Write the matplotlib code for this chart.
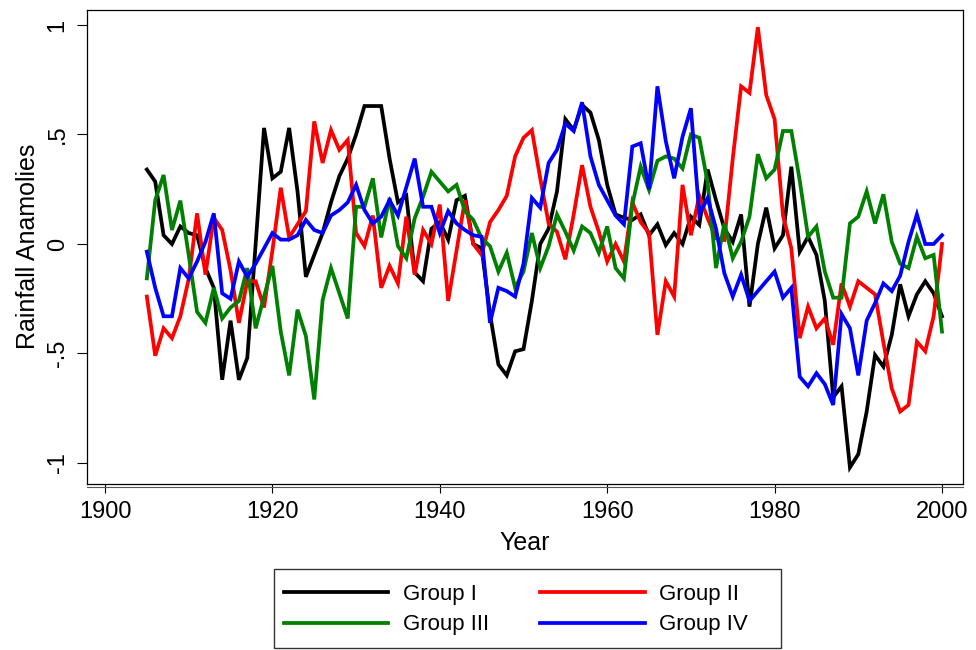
import matplotlib
matplotlib.use("Agg")
import matplotlib.pyplot as plt
from matplotlib.lines import Line2D
from matplotlib.patches import Rectangle
import numpy as np

plt.rcParams['font.family'] = ['Liberation Sans', 'DejaVu Sans']

years = list(range(1905, 2001))

group_1 = [0.34, 0.285, 0.04, 0.00, 0.08, 0.05, 0.04, -0.11, -0.20, -0.62,
           -0.35, -0.62, -0.52, 0.00, 0.53, 0.30, 0.33, 0.53, 0.24, -0.15,
           -0.05, 0.05, 0.19, 0.31, 0.39, 0.50, 0.63, 0.63, 0.63, 0.39,
           0.19, 0.22, -0.13, -0.17, 0.07, 0.10, 0.02, 0.20, 0.22, 0.00,
           -0.02, -0.32, -0.55, -0.60, -0.49, -0.48, -0.26, 0.00, 0.07, 0.24,
           0.57, 0.52, 0.635, 0.60, 0.475, 0.27, 0.135, 0.12, 0.11, 0.135,
           0.04, 0.09, -0.005, 0.05, 0.00, 0.125, 0.087, 0.34, 0.20, 0.07,
           0.01, 0.135, -0.286, 0.00, 0.166, -0.02, 0.04, 0.353, -0.035, 0.033,
           -0.05, -0.26, -0.70, -0.65, -1.02, -0.96, -0.765, -0.507, -0.56, -0.415,
           -0.184, -0.33, -0.23, -0.17, -0.225, -0.33]

group_2 = [-0.24, -0.51, -0.385, -0.43, -0.33, -0.16, 0.14, -0.14, 0.12, 0.064,
           -0.12, -0.36, -0.17, -0.17, -0.29, -0.03, 0.257, 0.03, 0.09, 0.15,
           0.56, 0.37, 0.52, 0.43, 0.475, 0.05, -0.01, 0.13, -0.20, -0.10,
           -0.18, 0.125, -0.14, 0.064, 0.00, 0.18, -0.26, -0.03, 0.20, 0.00,
           -0.05, 0.10, 0.155, 0.22, 0.40, 0.485, 0.52, 0.30, 0.094, 0.056,
           -0.07, 0.135, 0.36, 0.17, 0.056, -0.08, 0.00, -0.08, 0.19, 0.10,
           0.05, -0.415, -0.17, -0.24, 0.27, 0.04, 0.22, 0.117, 0.026, 0.018,
           0.39, 0.72, 0.69, 0.99, 0.68, 0.57, 0.13, -0.02, -0.43, -0.286,
           -0.385, -0.34, -0.46, -0.18, -0.286, -0.17, -0.20, -0.23, -0.45, -0.66,
           -0.765, -0.735, -0.446, -0.49, -0.33, 0.00]

group_3 = [-0.157, 0.20, 0.315, 0.064, 0.198, -0.05, -0.31, -0.36, -0.20, -0.34,
           -0.29, -0.26, -0.11, -0.385, -0.24, -0.10, -0.40, -0.60, -0.30, -0.42,
           -0.71, -0.256, -0.11, -0.225, -0.34, 0.17, 0.17, 0.30, 0.03, 0.21,
           -0.01, -0.065, 0.117, 0.216, 0.33, 0.285, 0.24, 0.27, 0.15, 0.11,
           0.026, -0.01, -0.126, -0.04, -0.20, -0.126, 0.05, -0.11, -0.01, 0.135,
           0.056, -0.03, 0.08, 0.05, -0.04, 0.08, -0.11, -0.157, 0.18, 0.353,
           0.247, 0.38, 0.40, 0.39, 0.345, 0.50, 0.485, 0.28, -0.11, 0.094,
           -0.065, 0.01, 0.125, 0.41, 0.30, 0.34, 0.516, 0.516, 0.29, 0.033,
           0.08, -0.126, -0.245, -0.245, 0.094, 0.125, 0.24, 0.094, 0.227, 0.01,
           -0.09, -0.11, 0.033, -0.065, -0.05, -0.40]

group_4 = [-0.035, -0.20, -0.33, -0.33, -0.11, -0.157, -0.08, 0.01, 0.14, -0.225,
           -0.25, -0.08, -0.15, -0.09, -0.02, 0.05, 0.02, 0.02, 0.04, 0.11,
           0.064, 0.05, 0.13, 0.155, 0.19, 0.27, 0.155, 0.094, 0.125, 0.20,
           0.13, 0.26, 0.39, 0.17, 0.17, 0.05, 0.15, 0.094, 0.064, 0.04,
           0.033, -0.36, -0.20, -0.215, -0.24, -0.09, 0.21, 0.166, 0.37, 0.43,
           0.55, 0.516, 0.647, 0.40, 0.27, 0.20, 0.13, 0.09, 0.445, 0.46,
           0.25, 0.72, 0.47, 0.30, 0.49, 0.62, 0.135, 0.21, 0.07, -0.134,
           -0.24, -0.14, -0.26, -0.215, -0.17, -0.126, -0.245, -0.20, -0.606, -0.65,
           -0.59, -0.64, -0.735, -0.32, -0.385, -0.60, -0.35, -0.27, -0.18, -0.215,
           -0.145, 0.01, 0.135, 0.00, 0.00, 0.04]

series_names = ["Group I", "Group II", "Group III", "Group IV"]
series_colors = ["#000000", "#FF0000", "#008000", "#0000FF"]

x_ticks = [1900, 1920, 1940, 1960, 1980, 2000]
x_tick_labels = ["1900", "1920", "1940", "1960", "1980", "2000"]
y_ticks = [1, 0.5, 0, -0.5, -1]
y_tick_labels = ["1", ".5", "0", "-.5", "-1"]

W, H = 976, 650
fig = plt.figure(figsize=(W / 100, H / 100), dpi=100)
L, R, T, B = 87, 963, 10, 483.5
ax = fig.add_axes([L / W, 1 - B / H, (R - L) / W, (B - T) / H])

handles = []
for vals, name, col in zip([group_1, group_2, group_3, group_4], series_names, series_colors):
    h, = ax.plot(years, vals, color=col, lw=2.7, label=name, solid_joinstyle='miter')
    handles.append(h)

ax.set_xlim(1900 - 18 / 8.37, 2000 + 21 / 8.37)
ax.set_ylim(-1 - 20.5 / 219, 1 + 15 / 219)

ax.set_xticks(x_ticks)
ax.set_xticklabels(x_tick_labels)
ax.set_yticks(y_ticks)
ax.set_yticklabels(y_tick_labels, rotation=90, va='center')

ax.tick_params(axis='x', direction='out', length=6.5, width=0.8, pad=6, labelsize=17)
ax.tick_params(axis='y', direction='out', length=7.2, width=0.8, pad=6, labelsize=17)
for sp in ax.spines.values():
    sp.set_linewidth(0.9)

ax.set_xlabel("Year", fontsize=18, labelpad=6)
ax.set_ylabel("Rainfall Anamolies", fontsize=18, labelpad=5)

# second (axis) line just below the plot region border
fig.add_artist(Line2D([L / W, R / W], [1 - 486.5 / H, 1 - 486.5 / H],
                      color='#555555', lw=0.8))

# legend box
fig.add_artist(Rectangle((274 / W, 1 - 648 / H), (781 - 274) / W, (648 - 569) / H,
                         fill=False, edgecolor='#333333', lw=1.0))
order = [0, 2, 1, 3]  # row-wise: I, II / III, IV
leg = fig.legend(handles=[handles[i] for i in order],
                 labels=[series_names[i] for i in order], ncol=2,
                 loc='upper left', bbox_to_anchor=(284 / W, 1 - 584 / H),
                 frameon=False, fontsize=16, handlelength=4.7, handletextpad=0.65,
                 columnspacing=2.3, labelspacing=0.42, borderpad=0, borderaxespad=0)
for ln in leg.get_lines():
    ln.set_linewidth(2.7)

fig.savefig("out.png", dpi=100)
